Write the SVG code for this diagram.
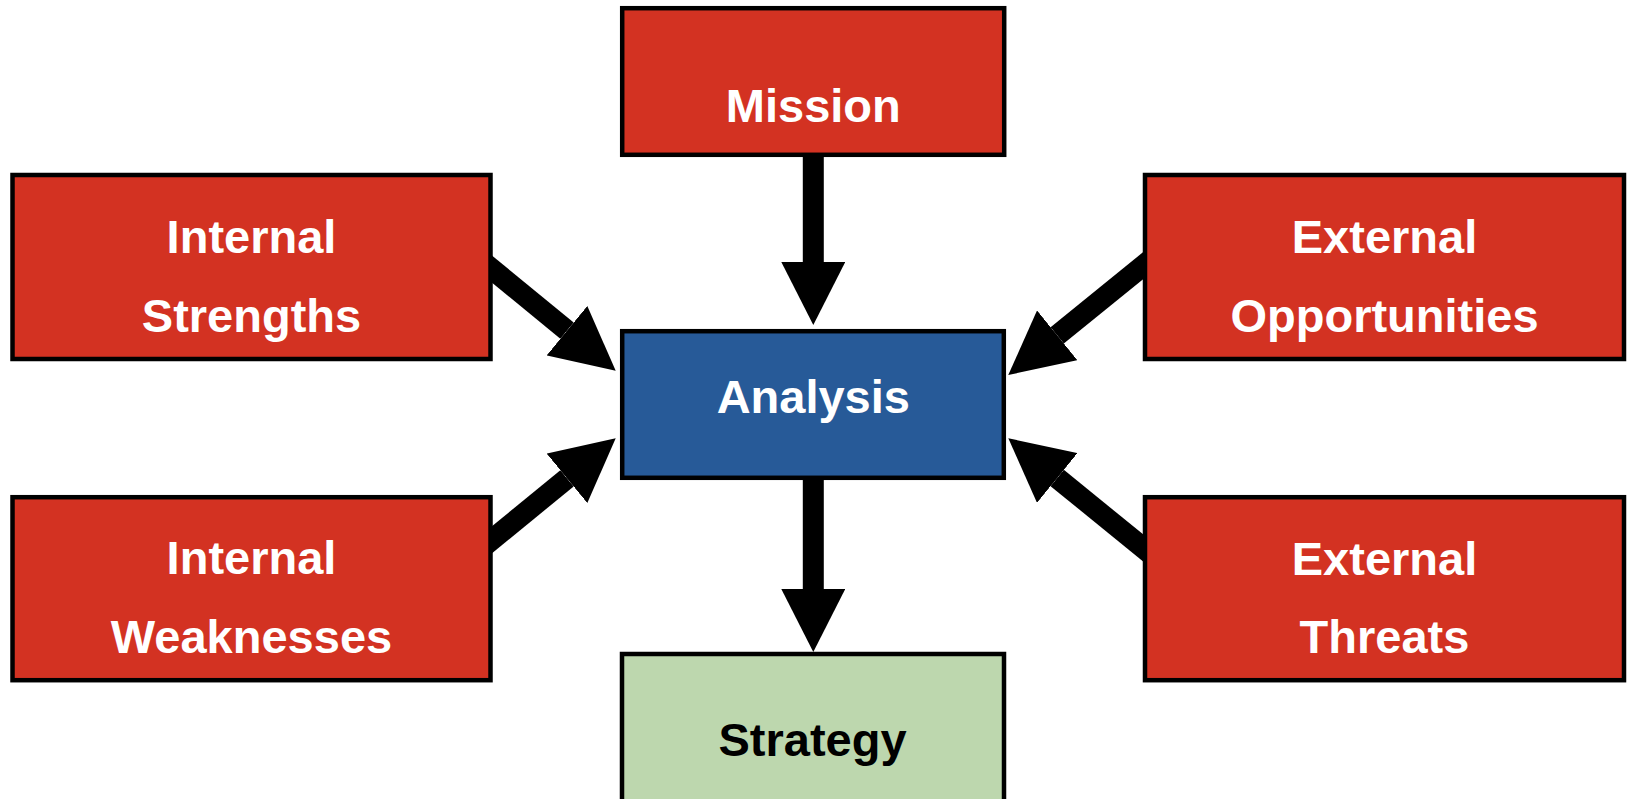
<svg xmlns="http://www.w3.org/2000/svg" width="1629" height="799" viewBox="0 0 1629 799">
<style>
.box{stroke:#000;stroke-width:4.5}
.red{fill:#D33222}
.blue{fill:#275A98}
.green{fill:#BDD7AE}
.lbl{font-family:"Liberation Sans",Arial,sans-serif;font-weight:bold;font-size:47px;text-anchor:middle;fill:#fff}
.dark{fill:#000}
.conn{stroke:#000;stroke-width:21;fill:none;marker-end:url(#head)}
</style>
<defs>
<marker id="head" markerUnits="userSpaceOnUse" viewBox="0 0 63 64" markerWidth="63" markerHeight="64" refX="0" refY="32" orient="auto">
<path d="M0,0 L63,32 L0,64 z" fill="#000"/>
</marker>
</defs>
<rect width="1629" height="799" fill="#fff"/>
<g id="connectors">
<line class="conn" x1="813.3" y1="150" x2="813.3" y2="262"/>
<line class="conn" x1="813.3" y1="475" x2="813.3" y2="589"/>
<line class="conn" x1="481.1" y1="260.2" x2="567.0" y2="330.7"/>
<line class="conn" x1="481.1" y1="548.7" x2="567.0" y2="478.3"/>
<line class="conn" x1="1155" y1="256" x2="1057.2" y2="335.3"/>
<line class="conn" x1="1155" y1="557.5" x2="1057.2" y2="478.0"/>
</g>
<g id="mission">
<rect class="box red" x="622.2" y="8.2" width="382" height="146.6"/>
<text class="lbl" x="813.3" y="122">Mission</text>
</g>
<g id="analysis">
<rect class="box blue" x="622.2" y="331.2" width="381.6" height="146.6"/>
<text class="lbl" x="813.3" y="412.7">Analysis</text>
</g>
<g id="strategy">
<rect class="box green" x="622" y="654" width="382" height="200"/>
<text class="lbl dark" x="812.5" y="756">Strategy</text>
</g>
<g id="internal-strengths">
<rect class="box red" x="12.5" y="175" width="478" height="184"/>
<text class="lbl" x="251.5" y="253">Internal</text>
<text class="lbl" x="251.5" y="332">Strengths</text>
</g>
<g id="internal-weaknesses">
<rect class="box red" x="12.5" y="497.2" width="478" height="183"/>
<text class="lbl" x="251.5" y="573.5">Internal</text>
<text class="lbl" x="251.5" y="652.5">Weaknesses</text>
</g>
<g id="external-opportunities">
<rect class="box red" x="1145" y="175" width="479" height="184"/>
<text class="lbl" x="1384.5" y="253">External</text>
<text class="lbl" x="1384.5" y="332">Opportunities</text>
</g>
<g id="external-threats">
<rect class="box red" x="1145" y="497.2" width="479" height="183"/>
<text class="lbl" x="1384.5" y="574.5">External</text>
<text class="lbl" x="1384.5" y="653">Threats</text>
</g>
</svg>
